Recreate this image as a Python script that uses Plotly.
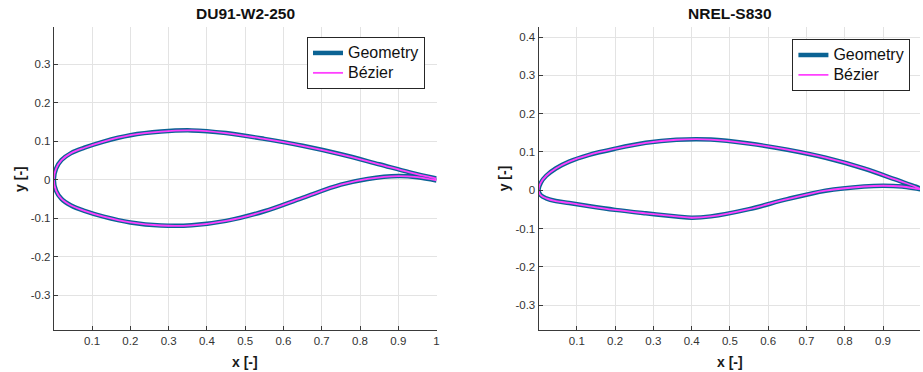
import plotly.graph_objects as go

# ---- airfoil coordinates (x/c, y/c) ----
du_x_upper = [0.0, 0.006, 0.02, 0.045, 0.08, 0.13, 0.2, 0.28, 0.36, 0.45,
              0.55, 0.65, 0.75, 0.85, 0.93, 1.0]
du_y_upper = [0.0, 0.029, 0.051, 0.069, 0.083, 0.099, 0.1155, 0.125, 0.128, 0.121,
              0.106, 0.088, 0.066, 0.040, 0.019, 0.003]
du_x_lower = [0.0, 0.006, 0.02, 0.045, 0.08, 0.13, 0.2, 0.28, 0.36, 0.45,
              0.55, 0.65, 0.75, 0.82, 0.9, 0.95, 1.0]
du_y_lower = [0.0, -0.029, -0.050, -0.067, -0.081, -0.096, -0.111, -0.119, -0.1185, -0.107,
              -0.082, -0.047, -0.013, 0.002, 0.0095, 0.0065, -0.002]

nrel_x_upper = [0.0, 0.006, 0.02, 0.045, 0.08, 0.13, 0.2, 0.28, 0.36, 0.45,
                0.55, 0.65, 0.75, 0.85, 0.93, 1.0]
nrel_y_upper = [0.0, 0.020, 0.038, 0.057, 0.075, 0.092, 0.1086, 0.124, 0.132, 0.1325,
                0.122, 0.106, 0.085, 0.057, 0.029, 0.003]
nrel_x_lower = [0.0, 0.006, 0.02, 0.045, 0.08, 0.13, 0.2, 0.28, 0.36, 0.4, 0.45,
                0.55, 0.65, 0.75, 0.85, 0.9, 0.95, 1.0]
nrel_y_lower = [0.0, -0.013, -0.021, -0.028, -0.033, -0.041, -0.051, -0.060, -0.068, -0.0715, -0.068,
                -0.049, -0.023, -0.001, 0.010, 0.012, 0.010, 0.003]

titles = ["DU91-W2-250", "NREL-S830"]
series_names = ["Geometry", "Bézier"]

x_tickvals = [0.1, 0.2, 0.3, 0.4, 0.5, 0.6, 0.7, 0.8, 0.9, 1.0]
x_ticktext = ["0.1", "0.2", "0.3", "0.4", "0.5", "0.6", "0.7", "0.8", "0.9", "1"]
y1_tickvals = [-0.3, -0.2, -0.1, 0.0, 0.1, 0.2, 0.3]
y1_ticktext = ["-0.3", "-0.2", "-0.1", "0", "0.1", "0.2", "0.3"]
y2_tickvals = [-0.3, -0.2, -0.1, 0.0, 0.1, 0.2, 0.3, 0.4]
y2_ticktext = ["-0.3", "-0.2", "-0.1", "0", "0.1", "0.2", "0.3", "0.4"]

# ---- page geometry (pixels) ----
W, H = 923, 372
FONT = "Liberation Sans, Arial, Helvetica, sans-serif"
AX_COLOR = "#3a3a3a"
GRID_COLOR = "#e3e3e3"
GEOM_COLOR = "#0b6394"
BEZ_COLOR = "#ff40ff"


def px_x(p):
    return p / W


def px_y(p):
    return 1 - p / H


def loop(xu, yu, xl, yl):
    # trailing edge -> leading edge along upper side, then back along lower side
    xs = list(reversed(xu)) + list(xl[1:])
    ys = list(reversed(yu)) + list(yl[1:])
    return xs, ys


def legend_name(s):
    # larger entry text while keeping the compact row pitch of a 13px legend
    return '<span style="font-size:16px">%s</span>' % s


fig = go.Figure()

profiles = [
    (du_x_upper, du_y_upper, du_x_lower, du_y_lower, "x", "y", "legend"),
    (nrel_x_upper, nrel_y_upper, nrel_x_lower, nrel_y_lower, "x2", "y2", "legend2"),
]
for xu, yu, xl, yl, xa, ya, lg in profiles:
    xs, ys = loop(xu, yu, xl, yl)
    fig.add_trace(go.Scatter(
        x=xs, y=ys, mode="lines", name=legend_name(series_names[0]), xaxis=xa, yaxis=ya, legend=lg,
        line=dict(color=GEOM_COLOR, width=4.5, shape="spline", smoothing=1.0),
    ))
    fig.add_trace(go.Scatter(
        x=xs, y=ys, mode="lines", name=legend_name(series_names[1]), xaxis=xa, yaxis=ya, legend=lg,
        line=dict(color=BEZ_COLOR, width=1.8, shape="spline", smoothing=1.0),
    ))

axis_common = dict(
    showline=True, linecolor=AX_COLOR, linewidth=1, mirror=False,
    ticks="inside", ticklen=4, tickwidth=1, tickcolor=AX_COLOR,
    showgrid=True, gridcolor=GRID_COLOR, gridwidth=1, zeroline=False,
    tickfont=dict(family=FONT, size=11.5, color="#333333"),
    fixedrange=True,
)

y_dom = [px_y(330), px_y(27)]
left_x0, left_x1 = 54, 438
right_x0 = 540.3
scale = (left_x1 - left_x0) / 1.0  # pixels per chord unit

legend_common = dict(
    xanchor="left", yanchor="top", bgcolor="white", bordercolor="#262626", borderwidth=1,
    font=dict(family=FONT, size=13, color="#111111"), tracegroupgap=0, itemwidth=30,
)

fig.update_layout(
    width=W, height=H,
    margin=dict(l=0, r=0, t=0, b=0),
    paper_bgcolor="white", plot_bgcolor="white",
    font=dict(family=FONT, color="#262626"),
    xaxis=dict(axis_common, domain=[px_x(left_x0), px_x(left_x1)], range=[0, 1],
               tickvals=x_tickvals, ticktext=x_ticktext, anchor="y"),
    yaxis=dict(axis_common, domain=y_dom, range=[-0.3904, 0.3966],
               tickvals=y1_tickvals, ticktext=y1_ticktext, anchor="x"),
    xaxis2=dict(axis_common, domain=[px_x(right_x0), 1.0], range=[0, (W - right_x0) / scale],
                tickvals=x_tickvals, ticktext=x_ticktext, anchor="y2"),
    yaxis2=dict(axis_common, domain=y_dom, range=[-0.3644, 0.4261],
                tickvals=y2_tickvals, ticktext=y2_ticktext, anchor="x2"),
    legend=dict(legend_common, x=px_x(308), y=px_y(37)),
    legend2=dict(legend_common, x=px_x(795), y=px_y(39)),
    showlegend=True,
)

# titles and axis labels
label_font = dict(family=FONT, size=14, color="#1a1a1a")
title_font = dict(family=FONT, size=15.5, color="#111111")
right_center = (right_x0 + right_x0 + scale) / 2
annotations = [
    dict(text="<b>%s</b>" % titles[0], x=px_x(246), y=px_y(14), font=title_font),
    dict(text="<b>%s</b>" % titles[1], x=px_x(right_center), y=px_y(14), font=title_font),
    dict(text="<b>x [-]</b>", x=px_x(246), y=px_y(362), font=label_font),
    dict(text="<b>x [-]</b>", x=px_x(right_center), y=px_y(362), font=label_font),
    dict(text="<b>y [-]</b>", x=px_x(19.5), y=px_y(178.5), font=label_font, textangle=-90),
    dict(text="<b>y [-]</b>", x=px_x(505.5), y=px_y(178.5), font=label_font, textangle=-90),
]
for a in annotations:
    a.update(xref="paper", yref="paper", xanchor="center", yanchor="middle", showarrow=False)
fig.update_layout(annotations=annotations)

fig.write_html("out.html")
